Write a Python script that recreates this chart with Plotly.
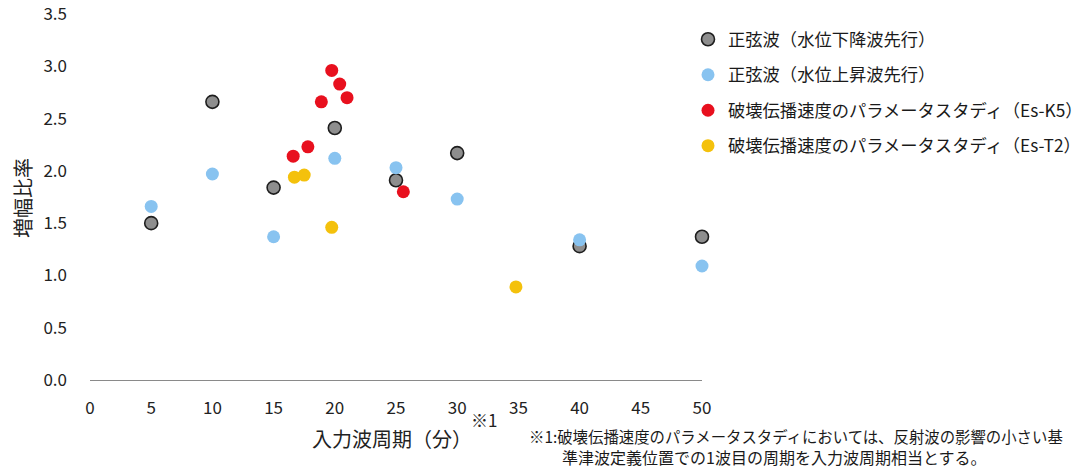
import plotly.graph_objects as go

# Data
gray_x = [5, 10, 15, 20, 25, 30, 40, 50]
gray_y = [1.50, 2.66, 1.84, 2.41, 1.91, 2.17, 1.28, 1.37]
blue_x = [5, 10, 15, 20, 25, 30, 40, 50]
blue_y = [1.66, 1.97, 1.37, 2.12, 2.03, 1.73, 1.34, 1.09]
red_x = [16.6, 17.8, 18.9, 19.75, 20.4, 21.0, 25.6]
red_y = [2.14, 2.23, 2.66, 2.96, 2.83, 2.70, 1.80]
yellow_x = [16.7, 17.5, 19.75, 34.8]
yellow_y = [1.94, 1.96, 1.46, 0.89]

names = [
    "正弦波（水位下降波先行）",
    "正弦波（水位上昇波先行）",
    "破壊伝播速度のパラメータスタディ（Es-K5）",
    "破壊伝播速度のパラメータスタディ（Es-T2）",
]
x_ticks = [0, 5, 10, 15, 20, 25, 30, 35, 40, 45, 50]
y_ticks = [0.0, 0.5, 1.0, 1.5, 2.0, 2.5, 3.0, 3.5]

FONT = "Noto Sans CJK JP"

# body margin removed in the page, so figure fills the 1086x470 window;
# plot area sits at window pixels x 90..702, y 14..380
W, H = 1086, 470
PL, PR, PT, PB = 90, 702, 14, 380


def px(xw):
    return (xw - PL) / (PR - PL)


def py(yw):
    return (PB - yw) / (PB - PT)


fig = go.Figure()
series = [
    (gray_x, gray_y, "#8e8e8e", dict(color="#1e1e1e", width=1.6)),
    (blue_x, blue_y, "#88c3f0", dict(width=0)),
    (red_x, red_y, "#e8101e", dict(width=0)),
    (yellow_x, yellow_y, "#f4c10c", dict(width=0)),
]
for i, (xs, ys, col, line) in enumerate(series):
    fig.add_trace(go.Scatter(
        x=xs, y=ys, mode="markers", name=names[i], legendgroup=f"g{i}",
        marker=dict(size=13, color=col, line=line), cliponaxis=False,
    ))

fig.update_layout(
    width=W, height=H,
    margin=dict(l=PL, r=W - PR, t=PT, b=H - PB, autoexpand=False),
    paper_bgcolor="white", plot_bgcolor="white",
    font=dict(family=FONT, color="#222222", size=17),
    showlegend=True,
    legend=dict(x=px(688), y=py(21.5), xanchor="left", yanchor="top",
                font=dict(size=17.3, color="#1a1a1a"), tracegroupgap=10,
                itemwidth=30, bgcolor="rgba(0,0,0,0)"),
    xaxis=dict(range=[0, 50], tickvals=x_ticks, ticktext=[str(v) for v in x_ticks],
               showgrid=False, zeroline=False, showline=True, linecolor="#8a8a8a",
               linewidth=1, ticks="", ticklabelstandoff=13, automargin=False,
               ticklabeloverflow="allow",
               tickfont=dict(size=17, color="#222222")),
    yaxis=dict(range=[0, 3.5], tickvals=y_ticks, ticktext=[f"{v:.1f}" for v in y_ticks],
               showgrid=False, zeroline=False, showline=False, ticks="",
               ticklabelstandoff=22, automargin=False, ticklabeloverflow="allow",
               tickfont=dict(size=17, color="#222222")),
)

fig.add_annotation(xref="paper", yref="paper", x=px(22), y=py(198), textangle=-90,
                   text="増幅比率", showarrow=False, xanchor="center", yanchor="middle",
                   font=dict(size=20, color="#222222"))
fig.add_annotation(xref="paper", yref="paper", x=px(392), y=py(438),
                   text="入力波周期（分）", showarrow=False, xanchor="center", yanchor="middle",
                   font=dict(size=20, color="#222222"))
fig.add_annotation(xref="paper", yref="paper", x=px(484), y=py(420),
                   text="※1", showarrow=False, xanchor="center", yanchor="middle",
                   font=dict(size=17, color="#222222"))
fig.add_annotation(xref="paper", yref="paper", x=px(527), y=py(436),
                   text="※1:破壊伝播速度のパラメータスタディにおいては、反射波の影響の小さい基",
                   showarrow=False, xanchor="left", yanchor="middle",
                   font=dict(size=15.4, color="#1a1a1a"))
fig.add_annotation(xref="paper", yref="paper", x=px(560), y=py(457),
                   text="準津波定義位置での1波目の周期を入力波周期相当とする。",
                   showarrow=False, xanchor="left", yanchor="middle",
                   font=dict(size=16, color="#1a1a1a"))

fig.write_html("out.html", config={"displayModeBar": False},
               post_script="document.body.style.margin='0';")
